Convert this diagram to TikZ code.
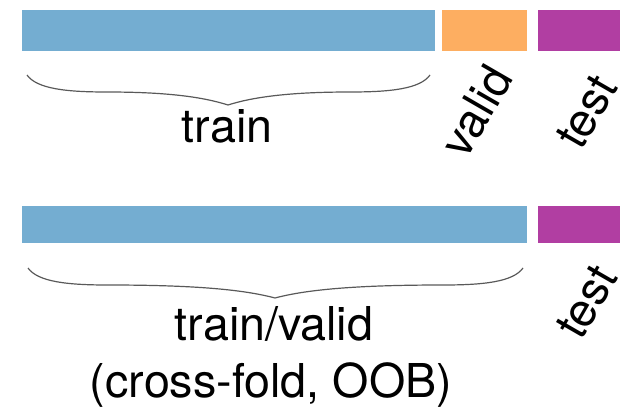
\documentclass[tikz,border=0pt]{standalone}
\usepackage{fontspec}
\setmainfont{TeX Gyre Heros}
\usepackage{tikz}
\usetikzlibrary{positioning,calc}
\definecolor{trainblue}{RGB}{116,173,209}
\definecolor{validorange}{RGB}{253,174,97}
\definecolor{testpurple}{RGB}{177,62,162}
\tikzset{
  bar/.style={inner sep=0pt,outer sep=0pt,anchor=north west},
  lbl/.style={font=\fontsize{35}{42}\selectfont,inner sep=0pt},
  curly/.style={draw=black!65,line width=0.9pt},
}
\begin{document}
\begin{tikzpicture}[x=0.75pt,y=-0.75pt]
  \useasboundingbox (0,0) rectangle (633,407);
  % top split: train / valid / test
  \node[bar,fill=trainblue,minimum width=309.75pt,minimum height=30.5pt] (trainA) at (22,10) {};
  \node[bar,fill=validorange,minimum width=63.75pt,minimum height=30.5pt] (validA) at (442,10) {};
  \node[bar,fill=testpurple,minimum width=61.5pt,minimum height=30.5pt] (testA) at (538,10) {};
  % bottom split: train/valid / test
  \node[bar,fill=trainblue,minimum width=378.75pt,minimum height=27.5pt] (trainB) at (22,206) {};
  \node[bar,fill=testpurple,minimum width=61.5pt,minimum height=27.5pt] (testB) at (538,206) {};

  % braces
  \coordinate (braceAl) at (27,75);
  \coordinate (braceAm) at (228,105);
  \coordinate (braceAr) at (430,75);
  \draw[curly] (braceAl) .. controls +(10,14) and +(-40,0) .. ($(braceAl)+(80,17)$)
    .. controls +(60,0) and +(-25,-8) .. (braceAm)
    .. controls +(25,-8) and +(-60,0) .. ($(braceAr)+(-80,17)$)
    .. controls +(40,0) and +(-10,14) .. (braceAr);
  \coordinate (braceBl) at (28,268);
  \coordinate (braceBm) at (275,298);
  \coordinate (braceBr) at (523,268);
  \draw[curly] (braceBl) .. controls +(10,14) and +(-40,0) .. ($(braceBl)+(80,17)$)
    .. controls +(90,0) and +(-30,-8) .. (braceBm)
    .. controls +(30,-8) and +(-90,0) .. ($(braceBr)+(-80,17)$)
    .. controls +(40,0) and +(-10,14) .. (braceBr);

  % labels
  \node[lbl,anchor=base] (trainLbl) at (227,142) {train};
  \node[lbl,rotate=60] (validLbl) at (476,111) {valid};
  \node[lbl,rotate=60] (testLblA) at (587,112) {test};
  \node[lbl,anchor=base] (tvLbl) at (274,340) {train/valid};
  \node[lbl,anchor=base] (cvLbl) at (271,397) {(cross-fold, OOB)};
  \node[lbl,rotate=60] (testLblB) at (587,302) {test};
\end{tikzpicture}
\end{document}
